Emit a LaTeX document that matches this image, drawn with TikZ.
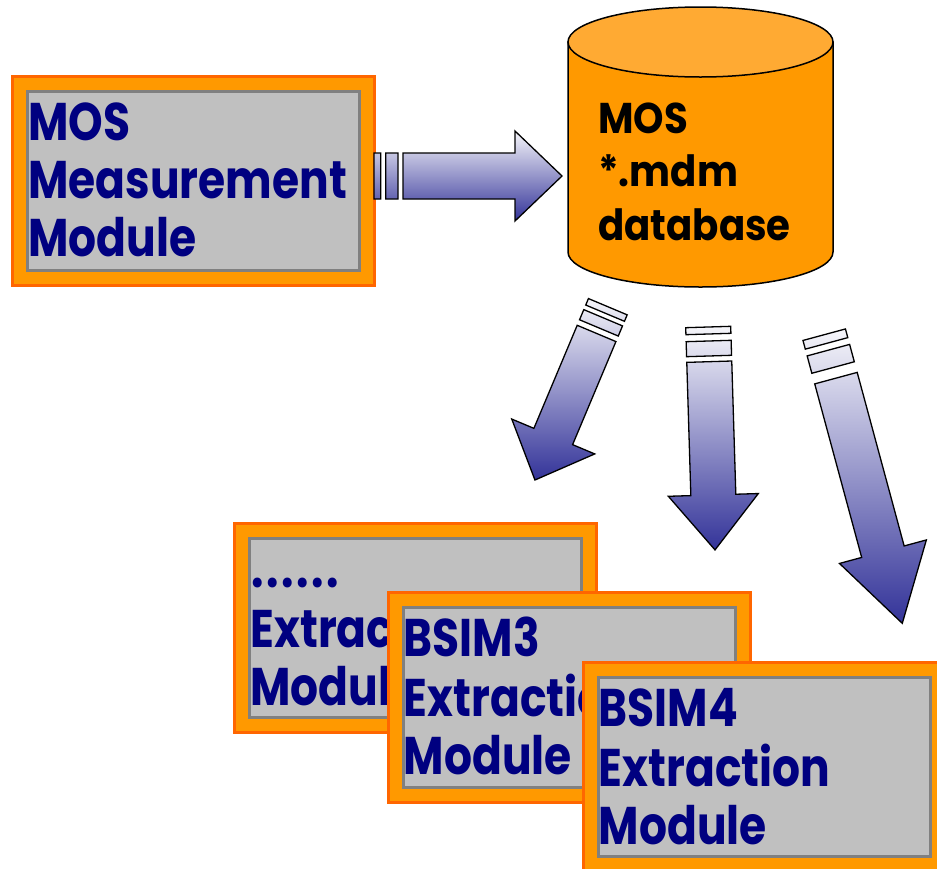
\documentclass[tikz,border=0pt]{standalone}
\usepackage{fontspec}
\setmainfont{Poppins}
\newfontfamily\labelfont{Poppins}[FakeStretch=0.83]
\newfontfamily\dbfont{Poppins}[FakeStretch=0.9]

\definecolor{boxorange}{HTML}{FF9900}
\definecolor{boxrim}{HTML}{FF6600}
\definecolor{panelgray}{HTML}{C0C0C0}
\definecolor{panelrim}{HTML}{808080}
\definecolor{labelnavy}{HTML}{000080}
\definecolor{dbbody}{HTML}{FF9900}
\definecolor{dbtop}{HTML}{FFAA33}
\definecolor{flowdark}{HTML}{333399}
\definecolor{flowlight}{HTML}{F6F6FA}

\tikzset{
  modframe/.style={fill=boxorange, draw=boxrim, line width=3pt,
    minimum width=362pt, minimum height=209.5pt, inner sep=0pt, outer sep=0pt},
  modpanel/.style={fill=panelgray, draw=panelrim, line width=3pt,
    minimum width=332pt, minimum height=179.5pt, inner sep=0pt, outer sep=0pt},
  modtext/.style={font=\labelfont\bfseries\fontsize{53}{58}\selectfont,
    text=labelnavy, inner sep=0pt},
  dbtext/.style={font=\dbfont\bfseries\fontsize{43}{53.5}\selectfont,
    text=black, inner sep=0pt},
  dbshape/.style={draw=black, line width=1.5pt},
  flowarrow/.style={draw=black, line width=1.3pt, line join=miter,
    top color=flowlight, bottom color=flowdark},
}

% module box: name, outer top-left x, y, text lines
\newcommand{\modulebox}[4]{%
  \node[modframe, anchor=north west] (#1) at (#2+1.5,#3+1.5) {};
  \node[modpanel, anchor=north west] (#1-panel) at (#2+16.5,#3+16.5) {};
  \node[modtext, anchor=base west] (#1-text) at (#2+17,#3+65.5)
    {\begin{tabular}[t]{@{}l@{}}#4\end{tabular}};
}
% evenly spaced dot
\newcommand{\spacedot}{\makebox[15pt][c]{.}}

% striped block arrow: tail x, tail y, angle, stripe1 end, stripe2 start,
% stripe2 end, shaft start, head base, tip; half shaft width in \flowhalf
\newcommand{\flowhalf}{22}
\newcommand{\blockarrow}[9]{%
  \begin{scope}[shift={(#1,#2)}, rotate=#3]
    \shadedraw[flowarrow]
      (0,-\flowhalf) rectangle (#4,\flowhalf)
      (#5,-\flowhalf) rectangle (#6,\flowhalf)
      (#7,-\flowhalf) -- (#8,-\flowhalf) -- (#8,-45) -- (#9,0)
      -- (#8,45) -- (#8,\flowhalf) -- (#7,\flowhalf) -- cycle;
  \end{scope}
}

\begin{document}
\begin{tikzpicture}[x=1pt, y=-1pt]
  \useasboundingbox (0,0) rectangle (937,868);
  \clip (0,0) rectangle (937,868);

  % measurement module
  \modulebox{meas}{11}{74.5}{MOS\\Measurement\\Module}

  % database cylinder
  \coordinate (db) at (700.5,42);
  \filldraw[dbshape, fill=dbbody]
    (568,42) -- (568,252) arc[start angle=180, end angle=0,
      x radius=132.5, y radius=35] -- (833,42) -- cycle;
  \filldraw[dbshape, fill=dbtop] (db) ellipse[x radius=132.5, y radius=35];
  \node[dbtext, anchor=base west] (db-text) at (598,133.3)
    {\begin{tabular}[t]{@{}l@{}}MOS\\{*}.mdm\\database\end{tabular}};

  % flow arrows
  \renewcommand{\flowhalf}{23}
  \blockarrow{374}{176}{0}{6.7}{11.7}{24}{29}{141}{188}
  \renewcommand{\flowhalf}{21}
  \blockarrow{607.8}{306.7}{-112.8}{7}{12}{23}{29}{140.8}{188}
  \renewcommand{\flowhalf}{22.5}
  \blockarrow{708.2}{327}{-88.25}{7}{14}{29}{34.7}{168}{223}
  \renewcommand{\flowhalf}{22}
  \blockarrow{824.2}{334.7}{-74.86}{9}{16}{34}{45}{224.8}{299}

  % extraction modules
  \modulebox{other}{233.3}{521.7}{\spacedot\spacedot\spacedot\spacedot\spacedot\spacedot\\Extraction\\Module}
  \modulebox{bsimthree}{386.7}{591}{BSIM3\\Extraction\\Module}
  \modulebox{bsimfour}{581.7}{660.7}{BSIM4\\Extraction\\Module}
\end{tikzpicture}
\end{document}
